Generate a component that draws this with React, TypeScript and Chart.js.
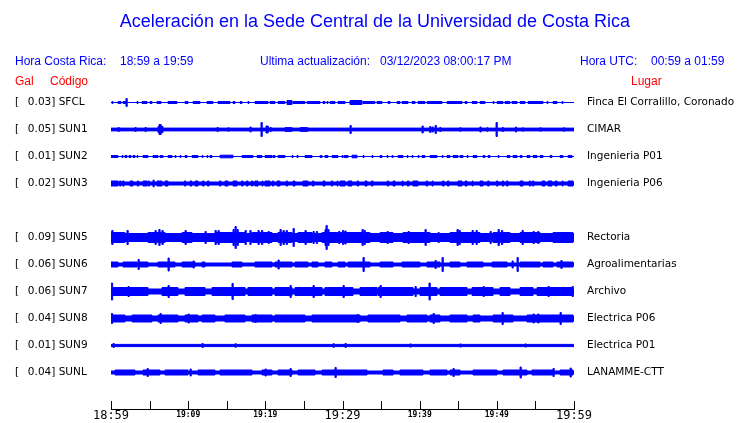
import React, { useEffect, useRef } from 'react';
import { Chart, registerables } from 'chart.js';

Chart.register(...registerables);

// ---------- text ----------
const TITLE = 'Aceleración en la Sede Central de la Universidad de Costa Rica';
const HORA_CR = '18:59 a 19:59';
const ULTIMA = '03/12/2023 08:00:17 PM';
const HORA_UTC = '00:59 a 01:59';

// ---------- stations ----------
const CODES = ['SFCL', 'SUN1', 'SUN2', 'SUN3', 'SUN5', 'SUN6', 'SUN7', 'SUN8', 'SUN9', 'SUNL'];
const GALS = ['0.03', '0.05', '0.01', '0.02', '0.09', '0.06', '0.06', '0.04', '0.01', '0.04'];
const PLACES = [
  'Finca El Corralillo, Coronado', 'CIMAR', 'Ingenieria P01', 'Ingenieria P06', 'Rectoria',
  'Agroalimentarias', 'Archivo', 'Electrica P06', 'Electrica P01', 'LANAMME-CTT',
];
// trace slot of each station (slot 4 is left empty)
const ROWS = [0, 1, 2, 3, 5, 6, 7, 8, 9, 10];
// resting half-amplitude of each trace (counts)
const BASE_AMPS = [0, 1.4, 0, 1.5, 4, 1.5, 2.5, 2.5, 1.1, 1.5];

// ---------- time axis (minutes after 18:59) ----------
const TICK_MINUTES = [0, 5, 10, 15, 20, 25, 30, 35, 40, 45, 50, 55, 60];
const LABEL_MINUTES = [0, 10, 20, 30, 40, 50, 60];
const TICK_LABELS = ['18:59', '19:09', '19:19', '19:29', '19:39', '19:49', '19:59'];
const MAJOR_LABELS = ['18:59', '19:29', '19:59'];

// ---------- envelopes: bursts [start, end, halfAmp], spikes [minute, halfAmp] ----------
const SFCL_BURSTS = [
  [0.13, 0.26, 1], [0.91, 1.3, 1], [1.56, 1.94, 1], [3.37, 3.5, 1], [4.02, 4.67, 1], [5.05, 5.31, 1],
  [5.96, 6.48, 1], [7.39, 8.55, 1], [9.59, 9.98, 1], [10.63, 11.53, 1], [12.44, 13.22, 1],
  [13.87, 15.42, 1], [15.81, 16.07, 1], [16.72, 16.98, 1], [17.75, 17.88, 1], [18.66, 20.35, 1],
  [20.61, 21.25, 1], [21.64, 22.55, 1], [22.81, 23.46, 2], [23.59, 25.14, 1], [25.4, 27.09, 1],
  [27.48, 27.73, 1], [27.99, 28.12, 1], [28.38, 29.03, 1], [29.42, 30.33, 1], [30.97, 32.53, 2],
  [32.66, 34.21, 1], [34.47, 35.12, 1], [35.9, 36.16, 1], [37.07, 37.45, 1], [37.71, 38.49, 1],
  [39.01, 39.4, 1], [39.79, 40.69, 1], [40.95, 42.9, 1], [43.55, 45.49, 1], [45.88, 46.14, 1],
  [46.79, 47.43, 1], [47.82, 48.47, 1], [49.51, 49.64, 1], [50.03, 50.8, 1], [51.06, 51.71, 1],
  [51.97, 52.62, 1], [53.01, 53.65, 1], [54.04, 55.99, 1], [56.5, 56.63, 1], [57.28, 57.8, 1],
  [58.45, 58.58, 1],
];
const SFCL_SPIKES = [[1.94, 4]];

const SUN1_BURSTS = [[6.09, 6.74, 3], [22.55, 23.46, 1.9], [24.5, 25.5, 1.9]];
const SUN1_SPIKES = [
  [0.91, 2], [3.11, 2], [4.41, 2], [6.22, 5], [6.35, 5], [13.74, 2], [15.16, 1.8], [18.01, 2.5],
  [19.44, 7], [20.09, 3.5], [20.22, 3.5], [20.61, 2], [30.97, 4], [40.3, 3.5], [41.3, 3], [41.6, 2.5],
  [42.0, 4], [42.6, 2], [45.2, 1.8], [47.8, 2.5], [48.7, 1.8], [49.9, 7], [50.7, 2], [52.4, 2.5],
  [53.3, 1.8], [55.6, 1.8], [58.6, 1.8],
];

const SUN2_BURSTS = [
  [0, 0.91, 1], [1.43, 1.56, 1], [1.81, 2.07, 1], [2.33, 2.59, 1], [2.85, 3.11, 1], [3.37, 3.5, 1],
  [4.15, 4.8, 1], [5.44, 6.09, 1], [6.35, 6.74, 1], [7.39, 7.91, 1], [8.29, 8.42, 1], [8.94, 9.07, 1],
  [9.59, 9.85, 1], [10.5, 11.28, 1], [11.79, 11.92, 1], [12.44, 12.57, 1], [12.83, 13.09, 1],
  [14.13, 15.81, 1.3], [16.98, 18.4, 1], [18.92, 19.57, 1], [19.96, 20.87, 1], [21.0, 21.25, 1],
  [21.64, 22.55, 1], [23.46, 23.59, 1], [24.1, 24.24, 1], [25.14, 26.05, 1], [27.09, 27.35, 1],
  [27.73, 28.12, 1], [28.64, 29.42, 1], [29.94, 30.07, 1], [30.2, 30.72, 1], [31.23, 31.88, 1.3],
  [32.66, 32.79, 1], [33.82, 33.95, 1], [34.86, 35.12, 1], [35.77, 35.9, 1], [36.42, 36.55, 1],
  [37.2, 37.84, 1], [38.36, 38.49, 1], [39.01, 39.14, 1], [39.79, 39.92, 1], [40.3, 40.69, 1],
  [41.34, 42.25, 1], [42.9, 43.03, 1], [43.55, 43.93, 1], [44.32, 44.97, 1], [45.23, 45.62, 1],
  [46.14, 46.27, 1], [46.92, 47.43, 1], [48.21, 48.47, 1], [48.86, 49.12, 1], [50.16, 50.29, 1],
  [51.32, 51.71, 1], [52.1, 52.62, 1], [53.01, 53.27, 1], [53.91, 54.3, 1], [54.69, 55.21, 1],
  [55.6, 55.99, 1], [56.89, 57.15, 1], [58.19, 58.58, 1], [59.23, 59.75, 1],
];
const SUN2_SPIKES = [];

const SUN3_BURSTS = [
  [0, 0.91, 2.5], [1.1, 1.3, 2.5], [1.5, 1.7, 2.5], [2.46, 2.85, 2.5], [3.4, 3.6, 2.5], [4.15, 4.67, 2.5],
  [4.8, 5.0, 2.5], [5.96, 6.61, 2.5], [7.0, 7.39, 2.5], [9.5, 9.7, 2.5], [10.24, 10.5, 2.5],
  [10.89, 11.28, 2.5], [11.85, 12.05, 2.5], [12.5, 12.7, 2.5], [14.05, 14.25, 2.5], [14.77, 15.16, 2.5],
  [15.81, 16.33, 2.5], [16.9, 17.1, 2.5], [17.55, 17.75, 2.5], [18.2, 18.4, 2.5], [18.66, 19.05, 2.5],
  [19.57, 19.7, 2.5], [19.96, 20.61, 2.5], [20.9, 21.1, 2.5], [21.51, 21.9, 2.5], [22.7, 22.9, 2.5],
  [23.59, 23.85, 2.5], [24.88, 25.53, 2.5], [26.1, 26.3, 2.5], [27.48, 27.73, 2.5], [28.55, 28.75, 2.5],
  [29.29, 29.42, 2.5], [29.68, 30.33, 2.5], [30.72, 31.23, 2.5], [31.9, 32.1, 2.5], [32.92, 33.18, 2.5],
  [33.75, 33.95, 2.5], [35.8, 36.0, 2.5], [36.55, 36.81, 2.5], [37.71, 37.84, 2.5], [38.4, 38.6, 2.5],
  [39.14, 39.79, 2.5], [40.85, 41.05, 2.5], [41.6, 41.73, 2.5], [42.95, 43.15, 2.5], [43.6, 43.8, 2.5],
  [44.97, 45.49, 2.5], [45.88, 46.14, 2.5], [46.79, 46.92, 2.5], [47.82, 48.21, 2.5], [48.8, 49.0, 2.5],
  [49.95, 50.15, 2.5], [50.7, 50.9, 2.5], [51.25, 51.45, 2.5], [53.01, 53.4, 2.5], [54.2, 54.4, 2.5],
  [54.6, 54.8, 2.5], [55.86, 56.24, 2.5], [56.63, 57.15, 2.5], [57.54, 57.8, 2.5], [58.45, 58.58, 2.5],
  [59.23, 59.87, 2.5],
];
const SUN3_SPIKES = [[5.44, 3.3]];

const SUN5_BURSTS = [
  [0, 1.81, 5], [4.8, 7.0, 5], [9.2, 10.5, 5], [13.48, 17.37, 5], [18.27, 20.87, 5],
  [21.64, 23.46, 5], [24.24, 26.05, 5], [27.35, 33.56, 5], [34.86, 36.55, 5], [37.84, 41.34, 5],
  [43.93, 47.82, 5], [49.51, 51.71, 5], [53.01, 55.6, 5], [57.28, 59.87, 5],
];
const SUN5_SPIKES = [
  [0.1, 7], [2.07, 7], [5.7, 7], [6.2, 8], [6.6, 7], [9.59, 7], [12.18, 6], [13.48, 7], [13.87, 7],
  [15.81, 8], [16.07, 11], [16.33, 8], [17.37, 7], [18.0, 7], [19.05, 7], [19.5, 7], [20.35, 6],
  [21.9, 8], [22.29, 7], [22.7, 7], [23.59, 9], [25.14, 7], [26.18, 6], [26.6, 6], [27.73, 8],
  [27.86, 12], [28.1, 8], [29.5, 6], [30.0, 7], [30.3, 6.5], [32.53, 8], [32.8, 7], [35.77, 6],
  [38.49, 6], [40.69, 8], [42.38, 5], [44.84, 8], [45.1, 7], [46.79, 7], [47.3, 7], [49.12, 6],
  [50.16, 8], [50.6, 7], [53.27, 7], [54.69, 6], [55.3, 6], [57.54, 5], [59.49, 5],
];

const SUN6_BURSTS = [
  [0, 0.91, 2.5], [1.56, 3.37, 2.5], [3.63, 4.8, 2.5], [6.09, 8.29, 2.5], [9.2, 10.89, 2.5],
  [11.79, 12.18, 2.5], [15.68, 16.98, 2.5], [18.66, 20.87, 2.5], [21.25, 23.46, 2.5], [23.85, 25.53, 2.5],
  [26.05, 26.83, 2.5], [27.73, 28.64, 2.5], [29.42, 30.33, 2.5], [30.72, 33.56, 2.5], [34.86, 36.55, 2.5],
  [37.71, 40.04, 2.5], [40.95, 42.64, 2.5], [43.93, 45.23, 2.5], [46.14, 48.21, 2.5], [49.38, 51.32, 2.5],
  [53.01, 55.6, 2.5], [55.99, 57.28, 2.5], [57.8, 59.87, 2.5],
];
const SUN6_SPIKES = [
  [3.5, 5], [7.39, 6.5], [10.63, 3.5], [21.64, 4.5], [32.66, 7], [41.99, 4], [42.9, 7], [51.97, 3.5],
  [52.62, 7], [58.3, 4],
];

const SUN7_BURSTS = [
  [0, 4.8, 4], [6.61, 8.68, 4], [9.59, 12.18, 4], [13.09, 17.37, 4], [17.75, 20.87, 4], [21.25, 23.46, 4],
  [23.85, 27.35, 4], [27.73, 31.36, 4], [32.27, 34.47, 4], [34.6, 39.14, 4], [40.04, 42.25, 4],
  [42.64, 46.14, 4], [46.79, 49.51, 4], [50.41, 51.71, 4], [53.01, 54.69, 4], [55.21, 59.87, 4],
];
const SUN7_SPIKES = [
  [0.05, 8.5], [2.2, 5], [7.39, 6], [15.68, 8], [23.2, 6], [26.18, 6], [30.07, 6], [34.86, 6],
  [39.4, 5], [41.21, 8.5], [48.21, 5], [56.63, 5], [59.75, 5],
];

const SUN8_BURSTS = [
  [0, 1.81, 3.5], [2.72, 5.31, 3.5], [6.09, 8.68, 3.5], [9.59, 11.28, 3.5], [11.79, 13.48, 3.5],
  [14.77, 17.37, 3.5], [18.27, 20.87, 3.5], [21.25, 25.14, 3.5], [26.05, 32.27, 3.5], [33.3, 37.45, 3.5],
  [38.36, 40.95, 3.5], [41.34, 42.64, 3.5], [43.93, 46.14, 3.5], [46.92, 47.82, 3.5], [49.51, 52.1, 3.5],
  [53.91, 59.87, 3.5],
];
const SUN8_SPIKES = [
  [0.05, 5], [6.35, 5], [9.98, 4.5], [18.66, 4], [31.88, 4], [41.73, 5], [50.67, 6], [54.69, 4.5],
  [55.3, 4.5], [58.19, 6],
];

const SUN9_BURSTS = [];
const SUN9_SPIKES = [
  [0.26, 2], [11.79, 2], [16.07, 1.8], [28.77, 1.8], [30.33, 2], [38.75, 1.6], [45.23, 1.6], [53.65, 1.6],
];

const SUNL_BURSTS = [
  [0.52, 3.11, 2.5], [4.15, 6.35, 2.5], [7.0, 9.98, 2.5], [11.28, 13.48, 2.5], [14.13, 18.27, 2.5],
  [19.57, 20.87, 2.5], [21.64, 23.46, 2.5], [24.24, 26.44, 2.5], [27.35, 33.18, 2.5], [35.25, 36.55, 2.5],
  [37.45, 40.43, 2.5], [41.34, 43.55, 2.5], [43.93, 45.23, 2.5], [46.92, 50.03, 2.5], [50.8, 53.91, 2.5],
  [54.56, 57.28, 2.5], [58.19, 59.87, 2.5],
];
const SUNL_SPIKES = [
  [4.67, 4], [10.24, 3.5], [19.96, 3.5], [23.2, 4], [29.03, 5], [44.32, 4], [53.01, 5.5], [57.28, 4],
  [59.49, 4.5],
];

const BURSTS = [SFCL_BURSTS, SUN1_BURSTS, SUN2_BURSTS, SUN3_BURSTS, SUN5_BURSTS, SUN6_BURSTS, SUN7_BURSTS, SUN8_BURSTS, SUN9_BURSTS, SUNL_BURSTS];
const SPIKES = [SFCL_SPIKES, SUN1_SPIKES, SUN2_SPIKES, SUN3_SPIKES, SUN5_SPIKES, SUN6_SPIKES, SUN7_SPIKES, SUN8_SPIKES, SUN9_SPIKES, SUNL_SPIKES];

// ---------- layout constants ----------
const SPAN = 60;
const SPIKE_W = 0.16;
const ROW_GAP = 27;
const ROW_OFFSET = 26.5;
const Y_MAX = 333;
const BLUE = '#0000ff';
const RED = '#ff0000';

const rowCenter = (r: number) => ROW_OFFSET + ROW_GAP * r;

function envelope(base: number, bursts: number[][], spikes: number[][]) {
  const segs = bursts.concat(spikes.map(([t, a]) => [t, t + SPIKE_W, a]));
  const bounds = new Set<number>([0, SPAN]);
  segs.forEach(([s, e]) => {
    bounds.add(Math.max(0, Math.min(SPAN, s)));
    bounds.add(Math.max(0, Math.min(SPAN, e)));
  });
  const xs = Array.from(bounds).sort((a, b) => a - b);
  const pts: { x: number; a: number }[] = [];
  for (let i = 0; i < xs.length - 1; i++) {
    const mid = (xs[i] + xs[i + 1]) / 2;
    let a = base;
    segs.forEach(([s, e, amp]) => {
      if (mid >= s && mid < e) a = Math.max(a, amp);
    });
    pts.push({ x: xs[i], a });
  }
  pts.push({ x: SPAN, a: pts[pts.length - 1].a });
  return pts;
}

function stationIndexFor(value: number) {
  return ROWS.findIndex((r) => Math.abs(rowCenter(r) - value) < 0.01);
}

const tickMarks = {
  id: 'tickMarks',
  afterDraw(chart: any) {
    const s = chart.scales.x;
    const ctx = chart.ctx;
    const bottom = chart.chartArea.bottom;
    ctx.save();
    ctx.strokeStyle = '#000';
    ctx.lineWidth = 1;
    ctx.beginPath();
    TICK_MINUTES.forEach((m) => {
      const px = Math.round(s.getPixelForValue(m)) + 0.5;
      ctx.moveTo(px, bottom - 8);
      ctx.lineTo(px, bottom + 0.5);
    });
    ctx.stroke();
    ctx.restore();
  },
};

export default function App() {
  const ref = useRef<HTMLCanvasElement | null>(null);

  useEffect(() => {
    if (!ref.current) return;
    const datasets: any[] = [];
    CODES.forEach((code, i) => {
      const c = rowCenter(ROWS[i]);
      const pts = envelope(BASE_AMPS[i], BURSTS[i], SPIKES[i]);
      const common = {
        type: 'line',
        stepped: true,
        borderColor: BLUE,
        backgroundColor: BLUE,
        borderWidth: 1,
        pointRadius: 0,
        tension: 0,
      };
      datasets.push({ ...common, label: code + '+', data: pts.map((p) => ({ x: p.x, y: c - p.a })), fill: '+1' });
      datasets.push({ ...common, label: code + '-', data: pts.map((p) => ({ x: p.x, y: c + p.a })), fill: false });
    });

    const yCommon = {
      type: 'linear',
      min: 0,
      max: Y_MAX,
      reverse: true,
      border: { display: false },
      afterBuildTicks: (s: any) => {
        s.ticks = ROWS.map((r) => ({ value: rowCenter(r) }));
      },
    };

    const chart = new Chart(ref.current, {
      type: 'line',
      data: { datasets },
      plugins: [tickMarks],
      options: {
        responsive: false,
        animation: false,
        events: [],
        layout: { padding: { left: 15, right: 6, top: 76, bottom: 0 } },
        plugins: { legend: { display: false }, tooltip: { enabled: false }, title: { display: false } },
        scales: {
          x: {
            type: 'linear',
            min: 0,
            max: SPAN,
            position: 'bottom',
            grid: { display: false, drawTicks: false },
            border: { display: true, color: '#000', width: 1 },
            afterFit: (s: any) => {
              s.height = 14;
            },
            afterBuildTicks: (s: any) => {
              s.ticks = TICK_MINUTES.map((m) => ({ value: m }));
            },
            ticks: {
              autoSkip: false,
              maxRotation: 0,
              minRotation: 0,
              padding: 0,
              color: '#000',
              font: (ctx: any) => {
                const idx = LABEL_MINUTES.indexOf(ctx.tick ? ctx.tick.value : -1);
                const major = idx >= 0 && MAJOR_LABELS.includes(TICK_LABELS[idx]);
                return major
                  ? { family: 'DejaVu Sans Mono', size: 12, lineHeight: 1.2 }
                  : { family: 'DejaVu Sans Mono', size: 8, weight: 'bold', lineHeight: 1.5 };
              },
              callback: (v: any) => {
                const idx = LABEL_MINUTES.indexOf(Number(v));
                return idx >= 0 ? TICK_LABELS[idx] : '';
              },
            },
          },
          y: {
            ...yCommon,
            position: 'left',
            grid: { display: false, drawTicks: false },
            afterFit: (s: any) => {
              s.width = 96;
            },
            ticks: {
              autoSkip: false,
              crossAlign: 'far',
              padding: 0,
              color: '#000',
              font: { family: 'DejaVu Sans', size: 10.5 },
              callback: (v: any) => {
                const i = stationIndexFor(Number(v));
                return i >= 0 ? `[  \u2009${GALS[i]}] ${CODES[i]}` : '';
              },
            },
          },
          y2: {
            ...yCommon,
            position: 'right',
            grid: { display: false, drawTicks: true, tickLength: 13 },
            afterFit: (s: any) => {
              s.width = 160;
            },
            ticks: {
              autoSkip: false,
              crossAlign: 'near',
              padding: 0,
              color: '#000',
              font: { family: 'DejaVu Sans', size: 10.5 },
              callback: (v: any) => {
                const i = stationIndexFor(Number(v));
                return i >= 0 ? PLACES[i] : '';
              },
            },
          },
        },
      } as any,
    } as any);
    return () => chart.destroy();
  }, []);

  const txt = (left: number, top: number, size: number, color: string, s: string) => (
    <div
      style={{
        position: 'absolute',
        left,
        top,
        fontFamily: '"Liberation Sans", Arial, sans-serif',
        fontSize: size,
        lineHeight: `${Math.round(size * 1.17)}px`,
        color,
        whiteSpace: 'pre',
      }}
    >
      {s}
    </div>
  );

  return (
    <div style={{ position: 'fixed', left: 0, top: 0, width: 740, height: 423, background: '#fff', overflow: 'hidden' }}>
      <canvas ref={ref} width={740} height={423} style={{ position: 'absolute', left: 0, top: 0 }} />
      <div
        style={{
          position: 'absolute',
          left: 5,
          width: 740,
          top: 11,
          textAlign: 'center',
          fontFamily: '"Liberation Sans", Arial, sans-serif',
          fontSize: 18,
          lineHeight: '21px',
          color: BLUE,
        }}
      >
        {TITLE}
      </div>
      {txt(15, 54, 12, BLUE, 'Hora Costa Rica:')}
      {txt(120, 54, 12, BLUE, HORA_CR)}
      {txt(260, 54, 12, BLUE, 'Ultima actualización:')}
      {txt(380, 54, 12, BLUE, ULTIMA)}
      {txt(580, 54, 12, BLUE, 'Hora UTC:')}
      {txt(651, 54, 12, BLUE, HORA_UTC)}
      {txt(15, 74, 12, RED, 'Gal')}
      {txt(50, 74, 12, RED, 'Código')}
      {txt(631, 74, 12, RED, 'Lugar')}
    </div>
  );
}
